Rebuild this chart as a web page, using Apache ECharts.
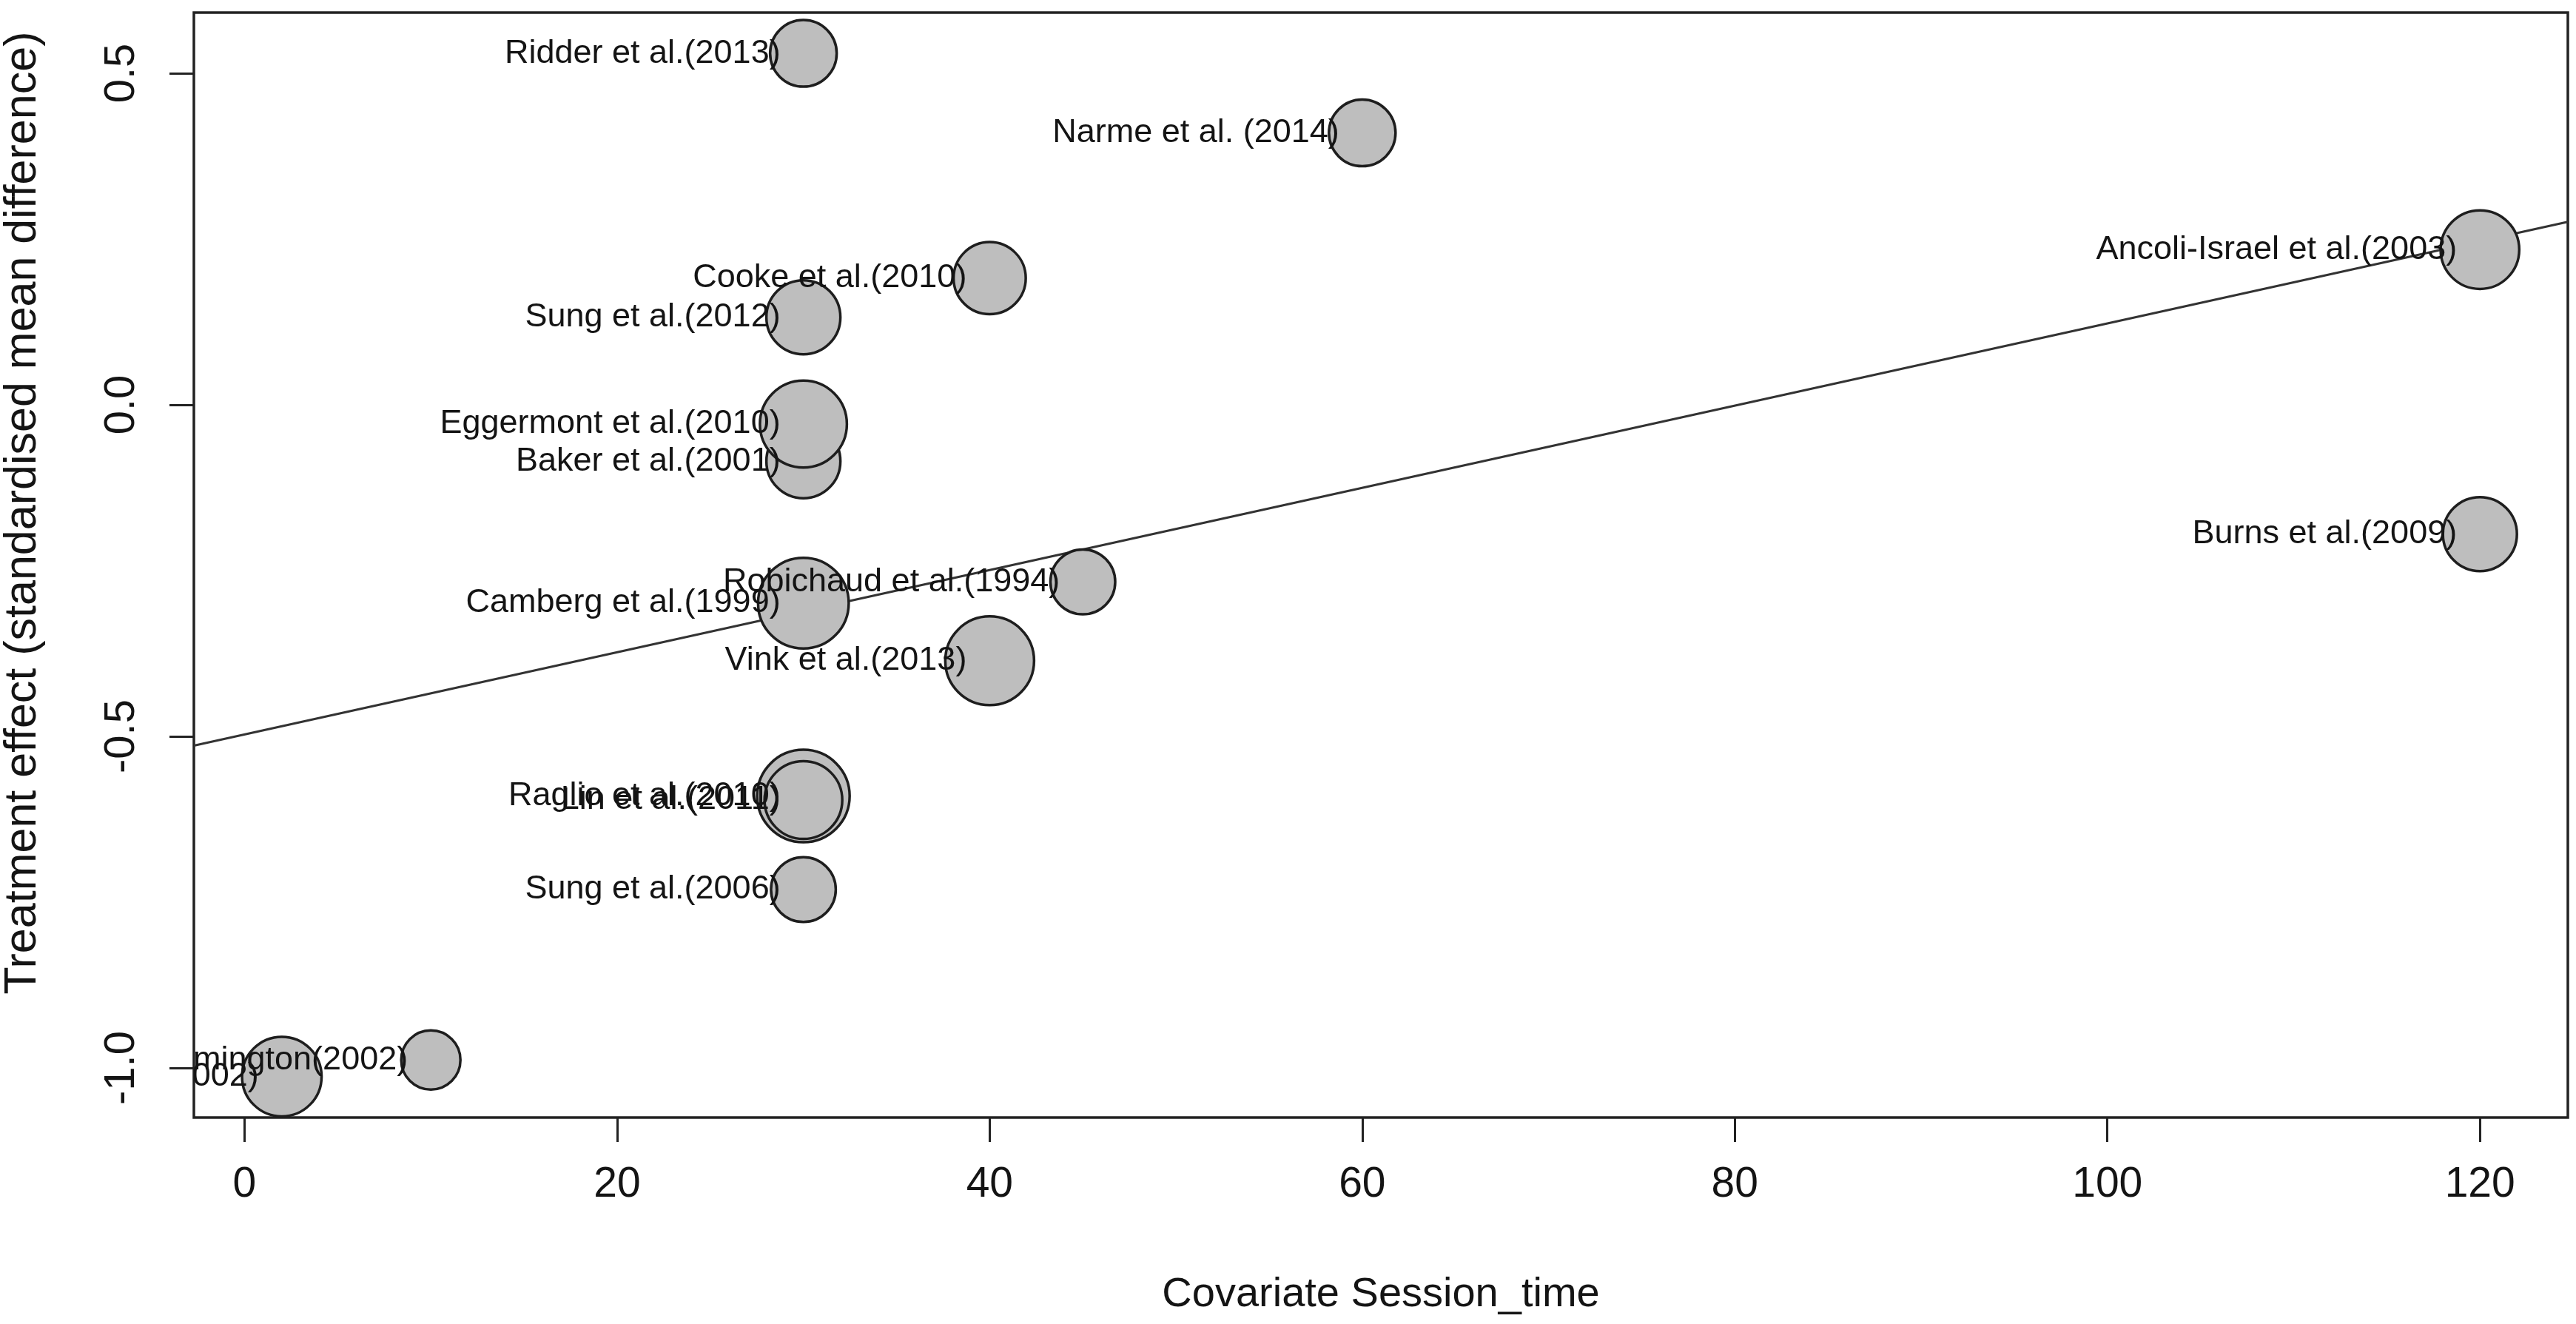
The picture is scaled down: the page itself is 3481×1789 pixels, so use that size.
<!DOCTYPE html>
<html>
<head>
<meta charset="utf-8">
<script src="https://cdn.jsdelivr.net/npm/echarts@6/dist/echarts.min.js"></script>
<style>
  html, body { margin: 0; padding: 0; background: #ffffff; }
  #chart { width: 3481px; height: 1789px; }
</style>
</head>
<body>
<div id="chart"></div>
<script>
// ---- data ----
const studies = [
  'Ridder et al.(2013)', 'Narme et al. (2014)', 'Cooke et al.(2010)', 'Sung et al.(2012)',
  'Ancoli-Israel et al.(2003)', 'Baker et al.(2001)', 'Eggermont et al.(2010)', 'Burns et al.(2009)',
  'Robichaud et al.(1994)', 'Camberg et al.(1999)', 'Vink et al.(2013)', 'Raglio et al.(2010)',
  'Lin et al.(2011)', 'Sung et al.(2006)', 'Ballard et al.(2002)', 'Remington(2002)'
];
const sessionTime = [30, 60, 40, 30, 120, 30, 30, 120, 45, 30, 40, 30, 30, 30, 2, 10];
const effect = [0.530, 0.410, 0.191, 0.132, 0.234, -0.085, -0.029, -0.195, -0.267, -0.299, -0.386, -0.590, -0.596, -0.731, -1.013, -0.988];
// relative study weight (bubble diameter relative to the largest study)
const weightRel = [0.72, 0.72, 0.78, 0.80, 0.85, 0.80, 0.94, 0.80, 0.70, 0.98, 0.96, 1.00, 0.84, 0.70, 0.86, 0.64];
// meta-regression fitted line, read at the plot edges
const fitX = [-2.72, 124.72];
const fitY = [-0.514, 0.276];
const xTicks = [0, 20, 40, 60, 80, 100, 120];
const yTicks = [-1.0, -0.5, 0.0, 0.5];
const xTitle = 'Covariate Session_time';
const yTitle = 'Treatment effect (standardised mean difference)';

// ---- layout / style ----
const FONT = 'Liberation Sans, Arial, sans-serif';
const MAX_D = 125;
const LABEL_OFFSET = 31;
const INK = '#141414';

const chart = echarts.init(document.getElementById('chart'), null, { renderer: 'canvas' });

const pts = studies.map((s, i) => [sessionTime[i], effect[i], weightRel[i]]);

const option = {
  animation: false,
  backgroundColor: '#ffffff',
  grid: {
    left: 262, top: 17, width: 3208, height: 1493,
    show: true, borderColor: '#222', borderWidth: 3.5, backgroundColor: 'transparent'
  },
  xAxis: {
    type: 'value', min: -2.72, max: 124.72,
    axisLine: { show: false, onZero: false },
    axisTick: { show: true, customValues: xTicks, length: 33, lineStyle: { color: '#222', width: 3 } },
    axisLabel: { customValues: xTicks, margin: 63, fontSize: 57, fontFamily: FONT, color: INK },
    splitLine: { show: false },
    name: xTitle, nameLocation: 'middle', nameGap: 212,
    nameTextStyle: { fontSize: 56, fontFamily: FONT, color: INK }
  },
  yAxis: {
    type: 'value', min: -1.0748, max: 0.5915,
    axisLine: { show: false, onZero: false },
    axisTick: { show: true, customValues: yTicks, length: 33, lineStyle: { color: '#222', width: 3 } },
    axisLabel: {
      customValues: yTicks, margin: 68, rotate: 90, fontSize: 58, fontFamily: FONT, color: INK,
      formatter: v => Number(v).toFixed(1)
    },
    splitLine: { show: false }
  },
  graphic: [{
    type: 'text', x: 31, y: 693, rotation: Math.PI / 2, z: 10,
    style: {
      text: yTitle, font: '61px ' + FONT, fill: INK,
      align: 'center', verticalAlign: 'middle', textAlign: 'center', textVerticalAlign: 'middle'
    }
  }],
  series: [
    {
      type: 'line', z: 1, silent: true, symbol: 'none', clip: true,
      data: fitX.map((x, i) => [x, fitY[i]]),
      lineStyle: { color: '#333', width: 3 }
    },
    {
      type: 'scatter', z: 2, silent: true,
      data: pts,
      symbol: 'circle',
      symbolSize: v => v[2] * MAX_D,
      itemStyle: { color: '#bebebe', borderColor: '#1e1e1e', borderWidth: 3.5, opacity: 1 }
    },
    {
      type: 'custom', z: 3, silent: true, clip: true,
      data: pts,
      encode: { x: 0, y: 1 },
      renderItem: function (params, api) {
        const p = api.coord([api.value(0), api.value(1)]);
        return {
          type: 'text',
          x: p[0] - LABEL_OFFSET,
          y: p[1],
          style: {
            text: studies[params.dataIndex],
            font: '45px ' + FONT,
            fill: INK,
            align: 'right',
            verticalAlign: 'middle'
          }
        };
      }
    }
  ]
};

chart.setOption(option);
</script>
</body>
</html>
